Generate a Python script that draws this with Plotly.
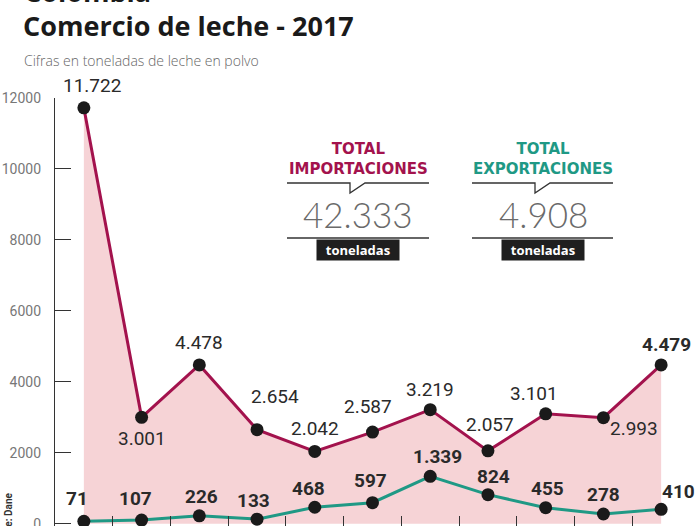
import plotly.graph_objects as go

months = ["Ene", "Feb", "Mar", "Abr", "May", "Jun", "Jul", "Ago", "Sep", "Oct", "Nov"]
importaciones = [11722, 3001, 4478, 2654, 2042, 2587, 3219, 2057, 3101, 2993, 4479]
exportaciones = [71, 107, 226, 133, 468, 597, 1339, 824, 455, 278, 410]
imp_labels = ["11.722", "3.001", "4.478", "2.654", "2.042", "2.587", "3.219", "2.057", "3.101", "2.993", "4.479"]
exp_labels = ["71", "107", "226", "133", "468", "597", "1.339", "824", "455", "278", "410"]
y_ticks = [0, 2000, 4000, 6000, 8000, 10000, 12000]

# label placement (pixel offsets of label centre from its point)
imp_offsets = [(8, -22), (0, 21), (0, -22), (18, -33), (0, -23), (-5, -26),
               (0, -20), (2, -26), (-12, -20), (31, 11), (5, -20)]
exp_offsets = [(-7, -23), (-6, -22), (2, -19), (-4, -19), (-6, -19), (-2, -22),
               (7, -20), (6, -18), (2, -19), (0, -20), (17, -18)]

W, H = 700, 526
ML, MR, MT, MB = 55, 10, 98, 0
PW, PH = W - ML - MR, H - MT - MB

def px(x):
    return (x - ML) / PW

def py(y):
    return (H - MB - y) / PH

IMP_COLOR = "#a3124d"
EXP_COLOR = "#1f9985"
FILL = "#f6d3d6"
FONT = "Roboto"

fig = go.Figure()
fig.add_trace(go.Scatter(
    x=months, y=importaciones, mode="lines+markers",
    line=dict(color=IMP_COLOR, width=3), fill="tozeroy", fillcolor=FILL,
    marker=dict(color="#1a1a1a", size=13), cliponaxis=False,
))
fig.add_trace(go.Scatter(
    x=months, y=exportaciones, mode="lines+markers",
    line=dict(color=EXP_COLOR, width=3),
    marker=dict(color="#1a1a1a", size=13), cliponaxis=False,
))

annotations = []
for i, (m, v, lab, (dx, dy)) in enumerate(zip(months, importaciones, imp_labels, imp_offsets)):
    bold = (i == 10)
    annotations.append(dict(
        x=m, y=v, xref="x", yref="y", text=("<b>%s</b>" % lab) if bold else lab,
        showarrow=False, xanchor="center", yanchor="middle", xshift=dx, yshift=-dy,
        font=dict(family=FONT, size=19, color="#2a2a2a"),
    ))
for m, v, lab, (dx, dy) in zip(months, exportaciones, exp_labels, exp_offsets):
    annotations.append(dict(
        x=m, y=v, xref="x", yref="y", text="<b>%s</b>" % lab,
        showarrow=False, xanchor="center", yanchor="middle", xshift=dx, yshift=-dy,
        font=dict(family=FONT, size=19, color="#2a2a2a"),
    ))

annotations += [
    dict(x=px(22), y=py(-9), xref="paper", yref="paper", text="<b>Colombia</b>", showarrow=False,
         xanchor="left", yanchor="middle", font=dict(family="Open Sans", size=27, color="#1a1a1a")),
    dict(x=px(21), y=py(25), xref="paper", yref="paper", text="<b>Comercio de leche - 2017</b>", showarrow=False,
         xanchor="left", yanchor="middle", font=dict(family="Open Sans", size=27, color="#1a1a1a")),
    dict(x=px(22), y=py(60), xref="paper", yref="paper", text="Cifras en toneladas de leche en polvo", showarrow=False,
         xanchor="left", yanchor="middle", font=dict(family="Open Sans", size=14, color="#666666", weight=300)),
    dict(x=px(8), y=py(522), xref="paper", yref="paper", text="<b>Fuente: Dane</b>", showarrow=False,
         textangle=-90, xanchor="center", yanchor="middle", font=dict(family=FONT, size=10, color="#333333")),
]

shapes = []
boxes = [
    (358, 287, 429, "IMPORTACIONES", IMP_COLOR, "42.333"),
    (543, 472, 613, "EXPORTACIONES", EXP_COLOR, "4.908"),
]
for cx, x0, x1, name, col, total in boxes:
    annotations += [
        dict(x=px(cx), y=py(159), xref="paper", yref="paper", text="<b>TOTAL<br>%s</b>" % name,
             showarrow=False, xanchor="center", yanchor="middle",
             font=dict(family="DejaVu Sans", size=15, color=col)),
        dict(x=px(cx), y=py(214), xref="paper", yref="paper", text=total,
             showarrow=False, xanchor="center", yanchor="middle",
             font=dict(family="Lato", size=35, color="#6a6a6a", weight=300)),
        dict(x=px(cx), y=py(250), xref="paper", yref="paper", text="<b>toneladas</b>",
             showarrow=False, xanchor="center", yanchor="middle", bgcolor="#1f1f1f",
             borderpad=2, width=78, height=16,
             font=dict(family="Open Sans", size=13, color="#ffffff")),
    ]
    nx = cx - 8
    shapes.append(dict(
        type="path", xref="paper", yref="paper",
        path="M %f %f L %f %f L %f %f L %f %f L %f %f" % (
            px(x0), py(183), px(nx), py(183), px(nx), py(193), px(nx + 15), py(183), px(x1), py(183)),
        line=dict(color="#333333", width=1.3),
    ))
    shapes.append(dict(type="line", xref="paper", yref="paper",
                       x0=px(x0), x1=px(x1), y0=py(238), y1=py(238),
                       line=dict(color="#333333", width=1.3)))

fig.update_layout(
    width=W, height=H, margin=dict(l=ML, r=MR, t=MT, b=MB, autoexpand=False),
    paper_bgcolor="white", plot_bgcolor="white", showlegend=False,
    annotations=annotations, shapes=shapes,
    xaxis=dict(type="category", range=[-0.5, 10.5], showticklabels=False, showgrid=False,
               zeroline=False, showline=False, ticks="inside", tickson="boundaries",
               ticklen=10, tickcolor="#333333", tickwidth=1.3, automargin=False),
    yaxis=dict(range=[-60, 12000], tickvals=y_ticks, ticktext=[str(v) for v in y_ticks],
               showgrid=False, zeroline=False, showline=True, linecolor="#333333", linewidth=1.3,
               ticks="inside", ticklen=16, tickcolor="#333333", tickwidth=1.3,
               ticklabelstandoff=10, ticklabeloverflow="allow", automargin=False,
               tickfont=dict(family=FONT, size=14, color="#777777")),
)

fig.write_html("out.html")
